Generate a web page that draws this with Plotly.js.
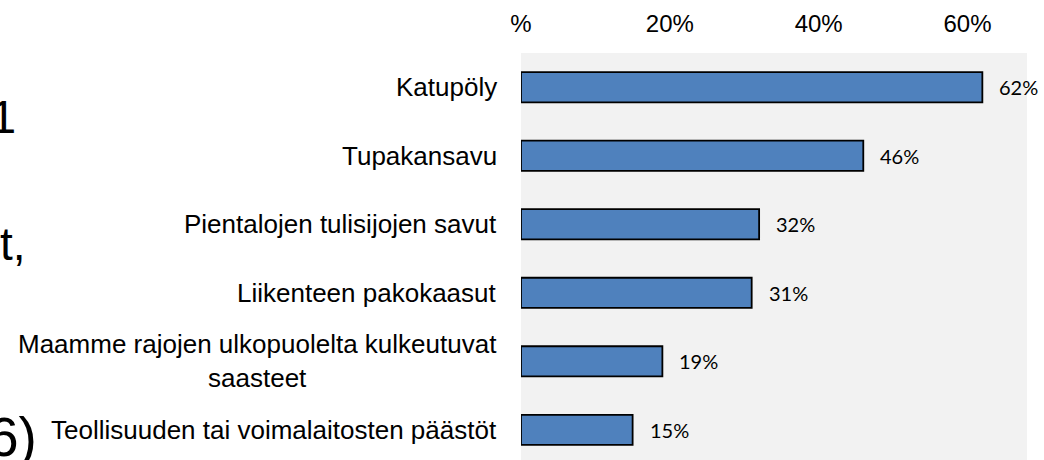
<!DOCTYPE html>
<html>
<head>
<meta charset="utf-8">
<script src="https://cdn.plot.ly/plotly-3.0.1.min.js"></script>
<style>html,body{margin:0;padding:0;background:#fff;}#chart{width:1044px;height:460px;}</style>
</head>
<body>
<div id="chart"></div>
<script>
// Data
const categories = [
  "Katupöly",
  "Tupakansavu",
  "Pientalojen tulisijojen savut",
  "Liikenteen pakokaasut",
  "Maamme rajojen ulkopuolelta kulkeutuvat<br>saasteet",
  "Teollisuuden tai voimalaitosten päästöt"
];
const values = [62, 46, 32, 31, 19, 15];
const valueLabels = ["62%", "46%", "32%", "31%", "19%", "15%"];
const tickVals = [0, 20, 40, 60];
const tickLabels = ["%", "20%", "40%", "60%"];
const sideFragments = ["1", "t,", "6)"];

const idx = categories.map((c, i) => i);

const trace = {
  type: "bar",
  orientation: "h",
  x: values,
  y: idx,
  marker: { color: "#4f81bd", line: { color: "#000000", width: 1.8 } },
  hoverinfo: "skip"
};

const annotations = [];
categories.forEach((c, i) => {
  annotations.push({
    xref: "paper", yref: "y", x: 0, y: i,
    xanchor: "right", yanchor: "middle", xshift: -22,
    text: c, align: "center", showarrow: false,
    font: { family: "Liberation Sans, Arial, sans-serif", size: 26, color: "#000" }
  });
  annotations.push({
    xref: "x", yref: "y", x: values[i], y: i,
    xanchor: "left", yanchor: "middle", xshift: 15,
    text: valueLabels[i], showarrow: false,
    font: { family: "Lato, Carlito, Calibri, sans-serif", size: 20, color: "#000" }
  });
});

// Partial large text fragments on the left edge (clipped in the original slide)
const fragPos = [
  { y: 116, size: 47, shift: -12 },
  { y: 244, size: 46, shift: -2 },
  { y: 437, size: 55, shift: -14 }
];
sideFragments.forEach((t, i) => {
  annotations.push({
    xref: "paper", yref: "paper",
    x: (0 - 521) / 506, y: 1 - (fragPos[i].y - 53) / 407,
    xanchor: "left", yanchor: "middle", xshift: fragPos[i].shift,
    text: t, showarrow: false,
    font: { family: "Liberation Sans, Arial, sans-serif", size: fragPos[i].size, color: "#000" }
  });
});

const layout = {
  width: 1044, height: 460,
  margin: { l: 521, r: 17, t: 53, b: 0, pad: 0 },
  paper_bgcolor: "#ffffff",
  plot_bgcolor: "#f2f2f2",
  showlegend: false,
  bargap: 0.56,
  xaxis: {
    side: "top", range: [0, 68],
    tickvals: tickVals, ticktext: tickLabels,
    showgrid: false, zeroline: false, showline: false,
    ticks: "", ticklabelstandoff: 15,
    tickfont: { family: "Liberation Sans, Arial, sans-serif", size: 24, color: "#000" }
  },
  yaxis: {
    range: [5.44, -0.5],
    showticklabels: false, showgrid: false, zeroline: false, showline: false, ticks: ""
  },
  annotations: annotations
};

Plotly.newPlot("chart", [trace], layout, { displayModeBar: false, staticPlot: true });
</script>
</body>
</html>
